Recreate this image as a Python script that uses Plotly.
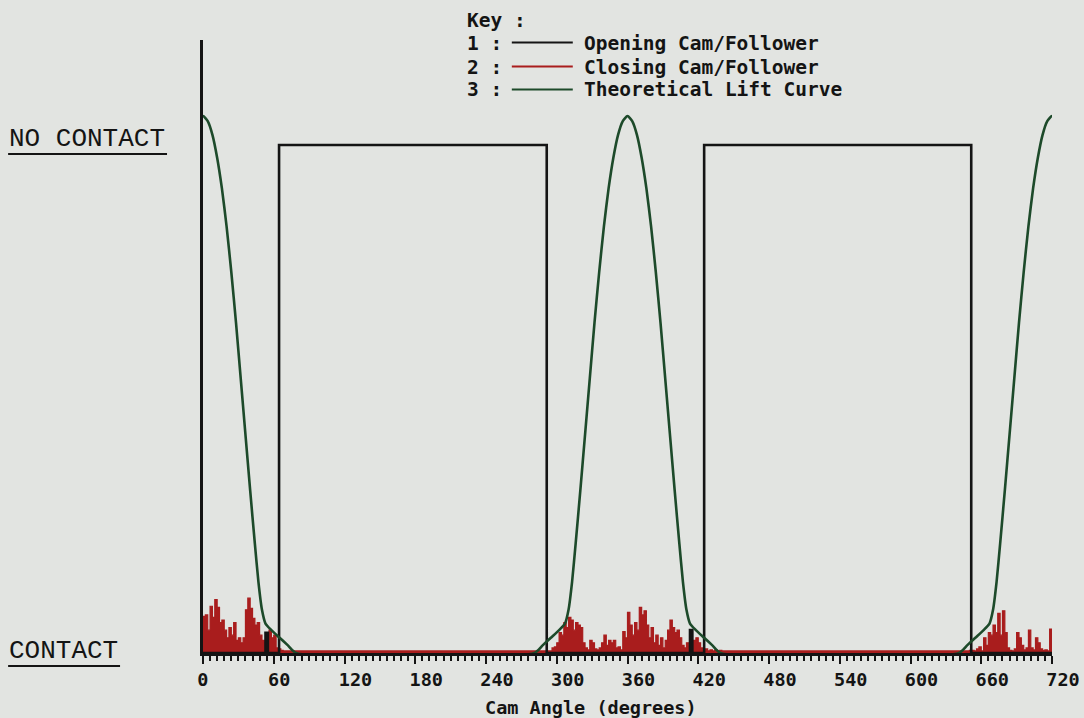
import plotly.graph_objects as go

# ---------------- data ----------------
# Contact state of the opening cam/follower (1 = no contact, 0 = contact)
opening_angle = [0, 53, 53, 55, 55, 64.5, 64.5, 291.5, 291.5, 413, 413, 415, 415,
                 425, 425, 651.5, 651.5, 720]
opening_state = [0, 0, 0.04, 0.04, 0, 0, 1, 1, 0, 0, 0.045, 0.045, 0,
                 0, 1, 1, 0, 0]

# Closing cam/follower contact signal, sampled every 2 degrees in the noisy spans
red_a_start = 0
red_a = [0.072, 0.075, 0.045, 0.092, 0.07, 0.105, 0.09, 0.06, 0.065, 0.045,
         0.03, 0.05, 0.035, 0.06, 0.025, 0.03, 0.02, 0.03, 0.085, 0.108,
         0.088, 0.068, 0.055, 0.06, 0.035, 0.025, 0.02, 0.03, 0.045, 0.03,
         0.035, 0.01, 0.008, 0.005, 0.004, 0.004]
red_b_start = 292
red_b = [0.004, 0.004, 0.01, 0.012, 0.02, 0.04, 0.035, 0.06, 0.05, 0.07,
         0.065, 0.045, 0.06, 0.055, 0.05, 0.02, 0.01, 0.006, 0.025, 0.02,
         0.008, 0.006, 0.01, 0.02, 0.035, 0.015, 0.025, 0.02, 0.025, 0.01,
         0.012, 0.006, 0.042, 0.03, 0.08, 0.055, 0.035, 0.06, 0.045, 0.09,
         0.075, 0.083, 0.055, 0.03, 0.05, 0.02, 0.035, 0.015, 0.03, 0.01,
         0.025, 0.045, 0.065, 0.05, 0.04, 0.045, 0.03, 0.015, 0.01, 0.02,
         0.015, 0.01, 0.025, 0.03, 0.02, 0.01, 0.004, 0.008, 0.004, 0.006,
         0.004, 0.006, 0.004, 0.005, 0.004]
red_c_start = 640
red_c = [0.004, 0.004, 0.004, 0.004, 0.004, 0.005, 0.005, 0.004, 0.008, 0.012,
         0.004, 0.03, 0.015, 0.04, 0.035, 0.055, 0.04, 0.078, 0.035, 0.083,
         0.04, 0.01, 0.005, 0.004, 0.008, 0.04, 0.03, 0.015, 0.006, 0.01,
         0.045, 0.01, 0.006, 0.03, 0.02, 0.008, 0.005, 0.006, 0.004, 0.047,
         0.047]
red_step = 2
red_floor = 0.004

# Theoretical lift: one lobe profile (degrees from peak, normalised lift)
lobe_offset = [0, 4, 8, 12, 16, 20, 24, 28, 32, 36, 40, 44, 47, 50, 53, 58, 65, 72, 79]
lobe_lift = [1.057, 1.047, 1.02, 0.975, 0.915, 0.84, 0.75, 0.65, 0.54, 0.43,
             0.32, 0.215, 0.14, 0.085, 0.058, 0.045, 0.03, 0.015, 0.0]
lobe_centres = [0, 360, 720]

x_ticks = [0, 60, 120, 180, 240, 300, 360, 420, 480, 540, 600, 660, 720]

# ---------------- build series ----------------
red_x, red_y = [], []
for start, vals in [(red_a_start, red_a), (red_b_start, red_b), (red_c_start, red_c)]:
    if red_x:
        red_x.append(start - red_step)
        red_y.append(red_floor)
    red_x += [start + i * red_step for i in range(len(vals))]
    red_y += vals

green_x, green_y = [], []
for c in lobe_centres:
    for off, lift in zip(lobe_offset[::-1], lobe_lift[::-1]):
        green_x.append(c - off)
        green_y.append(lift)
    for off, lift in zip(lobe_offset[1:], lobe_lift[1:]):
        green_x.append(c + off)
        green_y.append(lift)

BG = "#e2e4e1"
BLACK = "#141414"
RED = "#a91d1d"
GREEN = "#1d4a2a"
MONO = "DejaVu Sans Mono"

fig = go.Figure()
fig.add_trace(go.Scatter(x=red_x, y=red_y, mode="lines", line=dict(color=RED, width=1.2, shape="hv"),
                         fill="tozeroy", fillcolor=RED, hoverinfo="skip"))
fig.add_trace(go.Scatter(x=opening_angle, y=opening_state, mode="lines",
                         line=dict(color=BLACK, width=2.6), hoverinfo="skip"))
fig.add_trace(go.Scatter(x=green_x, y=green_y, mode="lines",
                         line=dict(color=GREEN, width=2.6, shape="spline", smoothing=0.6),
                         hoverinfo="skip"))

# plot area in pixels
W, H = 1084, 718
L, R, T, B = 203, 1052.5, 40, 653


def px(x):
    return (x - L) / (R - L)


def py(y):
    return (B - y) / (B - T)


fig.update_layout(
    width=W, height=H,
    margin=dict(l=L, r=W - R, t=T, b=H - B),
    paper_bgcolor=BG, plot_bgcolor=BG,
    showlegend=False,
    xaxis=dict(range=[0, 720], showgrid=False, zeroline=False, automargin=False,
               showline=True, linecolor=BLACK, linewidth=2.5,
               ticks="outside", ticklen=8, tickwidth=2, tickcolor=BLACK,
               tickvals=x_ticks,
               ticktext=[str(v).ljust(3, "\u00a0") for v in x_ticks],
               ticklabelshift=11,
               minor=dict(dtick=6, ticks="outside", ticklen=5, tickwidth=2, tickcolor=BLACK),
               tickfont=dict(family=MONO, size=18.5, color=BLACK, weight="bold")),
    yaxis=dict(range=[0, (B - T) / 508], showgrid=False, zeroline=False, automargin=False,
               showline=True, linecolor=BLACK, linewidth=2.5,
               showticklabels=False, ticks=""),
)

ann = []
key_font = dict(family=MONO, size=19.5, color=BLACK, weight="bold")
ann.append(dict(x=px(465), y=py(20), xref="paper", yref="paper", text="Key :",
                showarrow=False, xanchor="left", yanchor="middle", font=key_font))
key_rows = [("1 :", "Opening Cam/Follower", BLACK, 43),
            ("2 :", "Closing Cam/Follower", RED, 67),
            ("3 :", "Theoretical Lift Curve", GREEN, 90)]
shapes = []
for num, label, col, yy in key_rows:
    ann.append(dict(x=px(465), y=py(yy), xref="paper", yref="paper", text=num,
                    showarrow=False, xanchor="left", yanchor="middle", font=key_font))
    ann.append(dict(x=px(582), y=py(yy), xref="paper", yref="paper", text=label,
                    showarrow=False, xanchor="left", yanchor="middle", font=key_font))
    shapes.append(dict(type="line", xref="paper", yref="paper",
                       x0=px(512), x1=px(573), y0=py(yy - 0.5), y1=py(yy - 0.5),
                       line=dict(color=col, width=2)))

ann.append(dict(x=px(591), y=py(707), xref="paper", yref="paper", text="Cam Angle (degrees)",
                showarrow=False, xanchor="center", yanchor="middle",
                font=dict(family=MONO, size=18.5, color=BLACK, weight="bold")))

side_font = dict(family="Liberation Mono", size=26, color=BLACK)
ann.append(dict(x=px(7), y=py(139), xref="paper", yref="paper", text="NO CONTACT",
                showarrow=False, xanchor="left", yanchor="middle", font=side_font))
ann.append(dict(x=px(7), y=py(651), xref="paper", yref="paper", text="CONTACT",
                showarrow=False, xanchor="left", yanchor="middle", font=side_font))
shapes.append(dict(type="line", xref="paper", yref="paper", x0=px(8), x1=px(167),
                   y0=py(154), y1=py(154), line=dict(color=BLACK, width=2)))
shapes.append(dict(type="line", xref="paper", yref="paper", x0=px(8), x1=px(120),
                   y0=py(666), y1=py(666), line=dict(color=BLACK, width=2)))

fig.update_layout(annotations=ann, shapes=shapes)

fig.write_html("out.html")
